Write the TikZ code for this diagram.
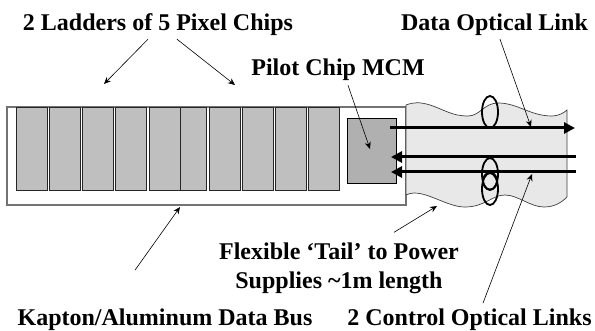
\documentclass[tikz,border=0pt]{standalone}
\usepackage{fontspec}
\setmainfont{Liberation Serif}
\usetikzlibrary{arrows.meta,shapes.geometric}
\tikzset{
    >={Stealth[length=7pt,width=6pt]},
    label/.style={font=\bfseries\fontsize{24}{29}\selectfont, inner sep=1pt, align=center},
    chip/.style={draw=black!85, line width=0.9pt, fill=black!25, minimum height=83pt, inner sep=0pt},
    pointer/.style={->, line width=0.6pt},
    fibre/.style={line width=3pt, -{Triangle[length=11pt,width=11pt]}},
    loop/.style={draw, ellipse, line width=1.8pt, minimum width=16pt, minimum height=32pt, inner sep=0pt}
}
\begin{document}
\begin{tikzpicture}[x=1pt,y=-1pt]
    \useasboundingbox (0,0) rectangle (595,331);
    % bus and chips
    \node[draw=black!55, line width=1.2pt, minimum width=399pt, minimum height=98pt, inner sep=0pt] (bus) at (206.5,156) {};
    \node[chip, minimum width=31pt] (chipa) at (31.5,148.5) {};
    \node[chip, minimum width=31pt] (chipb) at (64.5,148.5) {};
    \node[chip, minimum width=31pt] (chipc) at (97.5,148.5) {};
    \node[chip, minimum width=31pt] (chipd) at (131,148.5) {};
    \node[chip, minimum width=31pt] (chipe) at (164.5,148.5) {};
    \node[chip, minimum width=26pt] (chipf) at (193,148.5) {};
    \node[chip, minimum width=31pt] (chipg) at (224.5,148.5) {};
    \node[chip, minimum width=31pt] (chiph) at (257.5,148.5) {};
    \node[chip, minimum width=31pt] (chipi) at (290.5,148.5) {};
    \node[chip, minimum width=31pt] (chipj) at (323.5,148.5) {};
    \node[draw, line width=0.9pt, fill=black!31, minimum width=49pt, minimum height=65pt, inner sep=0pt] (mcm) at (372,150.5) {};
    % tail
    \draw[fill=black!9, line width=0.7pt, draw=black!75]
        (406,105) .. controls (414,102) and (420,102) .. (430,105)
        .. controls (445,110) and (452,116) .. (468,116)
        .. controls (480,116) and (484,103) .. (498,103)
        .. controls (518,103) and (530,116) .. (552,116)
        .. controls (558,116) and (564,113) .. (567,110)
        -- (567,197)
        .. controls (562,202) and (555,207) .. (544,207)
        .. controls (530,207) and (518,195) .. (505,195)
        .. controls (492,195) and (485,207) .. (465,207)
        .. controls (448,207) and (430,193) .. (414,193)
        .. controls (411,193) and (408,194) .. (406,195) -- cycle;
    % optical links
    \node[loop] (loopa) at (490,112) {};
    \node[loop] (loopb) at (490,174) {};
    \node[loop] (loopc) at (490,189) {};
    \node[loop, minimum width=14pt, minimum height=17pt] (loopd) at (490,181) {};
    \coordinate (datastart) at (390,128);
    \coordinate (dataend) at (575,128);
    \coordinate (ctrlastart) at (576,157);
    \coordinate (ctrlaend) at (391,157);
    \coordinate (ctrlbstart) at (576,172);
    \coordinate (ctrlbend) at (391,172);
    \draw[fibre] (datastart) -- (dataend);
    \draw[fibre] (ctrlastart) -- (ctrlaend);
    \draw[fibre] (ctrlbstart) -- (ctrlbend);
    % labels
    \node[label, anchor=base] (ladders) at (158,30.5) {2 Ladders of 5 Pixel Chips};
    \node[label, anchor=base] (data) at (494.5,30.5) {Data Optical Link};
    \node[label, anchor=base] (pilot) at (338,76) {Pilot Chip MCM};
    \node[label] (tail) at (339,268) {Flexible `Tail' to Power\\Supplies \textasciitilde 1m length};
    \node[label, anchor=base] (kapton) at (165,326) {Kapton/Aluminum Data Bus};
    \node[label, anchor=base] (control) at (469.5,326) {2 Control Optical Links};
    % pointers
    \coordinate (ladderstipa) at (104,84);
    \coordinate (ladderstipb) at (235,85);
    \coordinate (pilottip) at (370,149);
    \coordinate (datatip) at (531,127);
    \coordinate (tailtip) at (437,206);
    \coordinate (kaptontip) at (180,207);
    \coordinate (controltip) at (532,174);
    \draw[pointer] ([xshift=-10pt,yshift=-2.4pt]ladders.south) -- (ladderstipa);
    \draw[pointer] ([xshift=19pt,yshift=-2.4pt]ladders.south) -- (ladderstipb);
    \draw[pointer] ([xshift=10pt,yshift=-3pt]pilot.south) -- (pilottip);
    \draw[pointer] ([xshift=5.5pt,yshift=-2.4pt]data.south) -- (datatip);
    \draw[pointer] ([xshift=55pt,yshift=9pt]tail.north) -- (tailtip);
    \draw[pointer] ([xshift=-30pt,yshift=38pt]kapton.north) -- (kaptontip);
    \draw[pointer] ([xshift=13.5pt,yshift=5pt]control.north) -- (controltip);
\end{tikzpicture}
\end{document}
